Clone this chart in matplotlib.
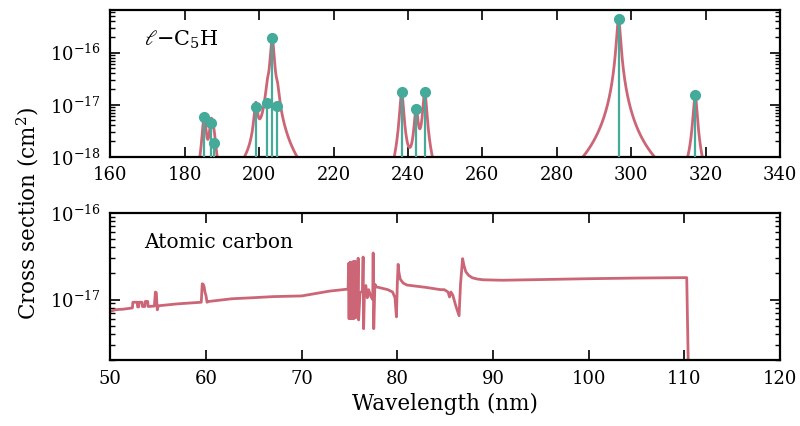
import numpy as np
import matplotlib
matplotlib.use("Agg")
import matplotlib.pyplot as plt
from matplotlib.ticker import NullFormatter, LogLocator

plt.rcParams['font.family'] = ['DejaVu Serif']
plt.rcParams['mathtext.fontset'] = 'dejavuserif'

red = '#cc6677'
teal = '#44aa99'

# l-C5H band positions (nm) and peak cross sections (cm^2)
c5h_wl = [185.2, 187.1, 187.8, 199.1, 202.2, 203.5, 204.9,
          238.3, 242.2, 244.5, 296.6, 317.2]
c5h_sig = [5.7e-18, 4.5e-18, 1.85e-18, 8.9e-18, 1.06e-17, 1.9e-16, 9.4e-18,
           1.73e-17, 8.1e-18, 1.75e-17, 4.45e-16, 1.55e-17]
c5h_width = 0.45  # lorentzian half width (nm)

# atomic carbon photoionisation cross section (1e-17 cm^2)
c_wl = [50.0, 50.5, 51.0, 51.2, 52.0, 52.3, 52.35, 52.8, 52.85, 52.95, 53.0, 53.3,
        53.35, 53.6, 53.65, 53.9, 53.95, 54.6, 54.7, 54.8, 54.9, 55.0, 55.2,
        57.0, 59.5, 59.6, 59.7, 59.8, 59.9, 60.0, 60.1, 60.3, 62.7, 65.0, 67.0,
        70.0, 72.9, 74.85,
        74.9, 74.95, 75.0, 75.05, 75.1, 75.15, 75.2, 75.25, 75.3, 75.35, 75.4,
        75.45, 75.5, 75.55, 75.62, 75.7, 75.85, 75.9, 75.95, 76.1, 76.35, 76.42,
        76.47, 76.55, 76.7, 76.85, 77.0, 77.2, 77.42, 77.47, 77.53, 77.65, 77.8,
        79.0, 79.5, 79.75, 79.9, 80.0, 80.08, 80.15, 80.3, 80.6, 81.0, 83.0, 84.5,
        84.9, 85.3, 85.45, 85.6, 85.8, 86.1, 86.45, 86.6, 86.82, 86.95, 87.15,
        87.45, 87.85, 88.4, 89.0, 91.0, 95.0, 100.0, 105.0, 110.0, 110.25, 110.45]
c_sig = [0.73, 0.76, 0.77, 0.77, 0.79, 0.8, 0.93, 0.93, 0.82, 0.82, 0.93, 0.93,
         0.83, 0.83, 0.95, 0.95, 0.83, 0.84, 1.22, 1.2, 0.76, 0.84, 0.85,
         0.89, 0.93, 1.52, 1.5, 1.4, 1.2, 1.1, 0.93, 0.95, 1.02, 1.05, 1.08,
         1.1, 1.25, 1.32,
         2.6, 0.6, 2.65, 0.6, 2.7, 0.62, 2.7, 0.6, 2.7, 0.62, 2.75,
         0.6, 2.75, 0.62, 2.75, 0.62, 1.3, 3.0, 0.58, 1.2, 1.25, 3.1,
         0.46, 1.1, 1.45, 1.05, 1.3, 1.1, 1.0, 3.45, 0.46, 1.5, 1.4,
         1.3, 1.22, 1.05, 0.63, 1.6, 2.55, 2.1, 1.72, 1.55, 1.47, 1.38, 1.3,
         1.3, 1.22, 1.07, 1.22, 1.12, 0.85, 0.65, 1.5, 2.97, 2.5, 2.1,
         1.9, 1.78, 1.72, 1.69, 1.67, 1.7, 1.74, 1.77, 1.79, 1.79, 0.1]


def broaden(x, centres, heights, g):
    y = np.zeros_like(x)
    for c, h in zip(centres, heights):
        y += h * g**2 / ((x - c)**2 + g**2)
    return y


fig = plt.figure(figsize=(8, 4.26), dpi=100)
ax1 = fig.add_axes([0.138, 0.632, 0.837, 0.3445])
ax2 = fig.add_axes([0.138, 0.155, 0.837, 0.345])

# top panel
wl = np.arange(160, 340, 0.05)
ax1.plot(wl, broaden(wl, c5h_wl, c5h_sig, c5h_width), color=red, lw=2.0, zorder=2)
ax1.vlines(c5h_wl, 1e-18, c5h_sig, color=teal, lw=1.6, zorder=3)
ax1.plot(c5h_wl, c5h_sig, 'o', color=teal, ms=7, zorder=4, clip_on=False)
ax1.set_yscale('log')
ax1.set_xlim(160, 340)
ax1.set_ylim(1e-18, 6.6e-16)
ax1.set_xticks(range(160, 341, 20))
ax1.set_yticks([1e-18, 1e-17, 1e-16])
ax1.text(0.05, 0.8, r'$\ell{-}\mathrm{C}_5\mathrm{H}$', transform=ax1.transAxes,
         fontsize=15, va='center')

# bottom panel
ax2.plot(c_wl, np.array(c_sig) * 1e-17, color=red, lw=2.0)
ax2.set_yscale('log')
ax2.set_xlim(50, 120)
ax2.set_ylim(2e-18, 1e-16)
ax2.set_xticks(range(50, 121, 10))
ax2.set_yticks([1e-17, 1e-16])
ax2.text(0.05, 0.8, 'Atomic carbon', transform=ax2.transAxes,
         fontsize=14.5, va='center')
ax2.set_xlabel('Wavelength (nm)', fontsize=15.5, labelpad=4)

for ax in (ax1, ax2):
    for s in ax.spines.values():
        s.set_linewidth(1.6)
    ax.yaxis.set_minor_locator(LogLocator(subs=np.arange(2, 10)))
    ax.yaxis.set_minor_formatter(NullFormatter())
    ax.tick_params(which='both', direction='in', top=True, right=True,
                   labelsize=13, width=1.2, pad=7)
    ax.tick_params(which='major', length=7)
    ax.tick_params(which='minor', length=3.5, width=1.0)
    ax.tick_params(axis='x', which='minor', top=False, bottom=False)

fig.text(0.035, 0.5, r'Cross section (cm$^2$)', rotation=90, fontsize=15.5,
         ha='center', va='center')

fig.savefig('out.png', dpi=100)
